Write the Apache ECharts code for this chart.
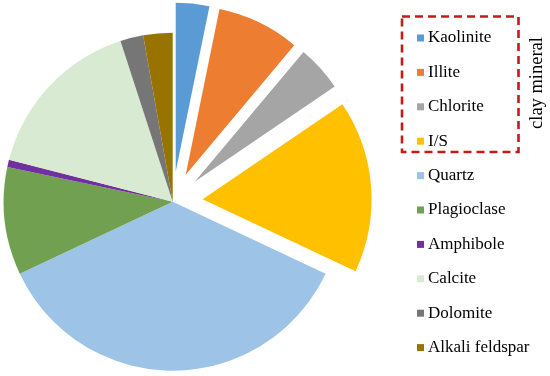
<!DOCTYPE html>
<html>
<head>
<meta charset="utf-8">
<script src="https://cdn.jsdelivr.net/npm/echarts@6/dist/echarts.min.js"></script>
<style>
html,body{margin:0;padding:0;background:#fff;}
#chart{width:550px;height:376px;}
</style>
</head>
<body>
<div id="chart"></div>
<script>
const minerals = ['Kaolinite','Illite','Chlorite','I/S','Quartz','Plagioclase','Amphibole','Calcite','Dolomite','Alkali feldspar'];
const percents = [3.2, 7.9, 4.4, 16.5, 36.0, 10.3, 0.7, 16.0, 2.2, 2.8];
const clayMinerals = ['Kaolinite','Illite','Chlorite','I/S'];
const groupLabel = 'clay mineral';

const palette = ['#5B9BD5','#ED7D31','#A5A5A5','#FFC000','#9DC3E6','#70A050','#7030A0','#D9EAD3','#767676','#997300'];

const chart = echarts.init(document.getElementById('chart'), null, {renderer:'canvas'});
chart.setOption({
  animation: false,
  color: palette,
  legend: {
    orient: 'vertical',
    left: 412,
    top: 23,
    itemWidth: 7,
    itemHeight: 7,
    itemGap: 14.4,
    icon: 'rect',
    selectedMode: false,
    textStyle: {fontFamily: 'Liberation Serif', fontSize: 17, color: '#000', lineHeight: 20, padding:[0,0,0,-1]},
    data: minerals
  },
  series: [{
    type: 'pie',
    center: [172.7, 201.7],
    radius: 169,
    startAngle: 90,
    clockwise: true,
    selectedMode: 'multiple',
    selectedOffset: 30,
    label: {show: false},
    labelLine: {show: false},
    emphasis: {disabled: true},
    itemStyle: {borderWidth: 0},
    data: minerals.map((n, i) => ({name: n, value: percents[i], selected: clayMinerals.includes(n)}))
  }],
  graphic: [
    {type: 'rect', shape: {x: 402, y: 16.5, width: 116.5, height: 135.5},
     style: {fill: 'none', stroke: '#C51A1A', lineWidth: 2.6, lineDash: [8, 5]}},
    {type: 'text', x: 537, y: 83, rotation: Math.PI / 2,
     style: {text: groupLabel, font: '18.5px "Liberation Serif"', fill: '#000', align: 'center', verticalAlign: 'middle'}}
  ]
});
</script>
</body>
</html>
